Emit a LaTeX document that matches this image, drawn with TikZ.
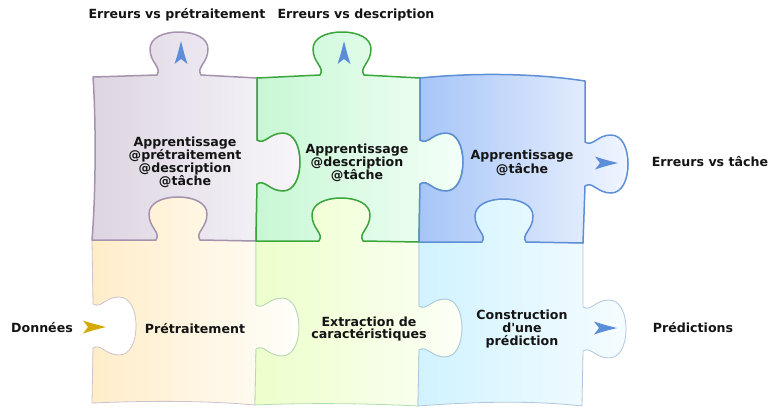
\documentclass[tikz,border=0pt]{standalone}
\usepackage{fontspec}
\setmainfont{DejaVu Sans}
\definecolor{pAline}{HTML}{A593AD}
\definecolor{pAl}{HTML}{DDD5E2}
\definecolor{pAr}{HTML}{F8F6FA}
\definecolor{pBline}{HTML}{3AA63A}
\definecolor{pBl}{HTML}{C8F7D5}
\definecolor{pBr}{HTML}{F3FFF7}
\definecolor{pCline}{HTML}{5E8ED6}
\definecolor{pCl}{HTML}{A6C5F7}
\definecolor{pCr}{HTML}{F0F5FF}
\definecolor{pDline}{HTML}{CCC2CC}
\definecolor{pDl}{HTML}{FFEDC9}
\definecolor{pDr}{HTML}{FFFEFA}
\definecolor{pEline}{HTML}{B2DDB2}
\definecolor{pEl}{HTML}{EDFFCB}
\definecolor{pEr}{HTML}{FCFFF6}
\definecolor{pFline}{HTML}{AEC6DE}
\definecolor{pFl}{HTML}{D0F3FF}
\definecolor{pFr}{HTML}{F6FCFF}
\definecolor{arrowblue}{HTML}{5B8DD9}
\definecolor{arrowgold}{HTML}{D4AA00}
% horizontal edge tab: #1 centre x, #2 base y, #3 direction (+1 l->r), #4 bump (+1 down)
\newcommand\hT[4]{-- ({#1-22*(#3)},{#2}) .. controls ({#1-17*(#3)},{#2+8*(#4)}) and ({#1-29*(#3)},{#2+12*(#4)}) .. ({#1-29*(#3)},{#2+26*(#4)}) .. controls ({#1-29*(#3)},{#2+37*(#4)}) and ({#1-16*(#3)},{#2+43*(#4)}) .. ({#1},{#2+43*(#4)}) .. controls ({#1+16*(#3)},{#2+43*(#4)}) and ({#1+29*(#3)},{#2+37*(#4)}) .. ({#1+29*(#3)},{#2+26*(#4)}) .. controls ({#1+29*(#3)},{#2+12*(#4)}) and ({#1+17*(#3)},{#2+8*(#4)}) .. ({#1+22*(#3)},{#2})}
% vertical edge tab: #1 centre y, #2 base x, #3 direction (+1 downwards), #4 bump (+1 right)
\newcommand\vT[4]{-- ({#2},{#1-22*(#3)}) .. controls ({#2+8*(#4)},{#1-17*(#3)}) and ({#2+12*(#4)},{#1-29*(#3)}) .. ({#2+26*(#4)},{#1-29*(#3)}) .. controls ({#2+37*(#4)},{#1-29*(#3)}) and ({#2+43*(#4)},{#1-16*(#3)}) .. ({#2+43*(#4)},{#1}) .. controls ({#2+43*(#4)},{#1+16*(#3)}) and ({#2+37*(#4)},{#1+29*(#3)}) .. ({#2+26*(#4)},{#1+29*(#3)}) .. controls ({#2+12*(#4)},{#1+29*(#3)}) and ({#2+8*(#4)},{#1+17*(#3)}) .. ({#2},{#1+22*(#3)})}
\newcommand\dartpath{(11,0) .. controls (3,-2) and (-5,-4) .. (-12,-6.5) .. controls (-9,-3) .. (-7,0) .. controls (-9,3) .. (-12,6.5) .. controls (-5,4) and (3,2) .. (11,0) -- cycle}
\begin{document}
\begin{tikzpicture}[x=1pt,y=-1pt,
  lbl/.style={font=\fontsize{12.6}{12.7}\selectfont\bfseries, text=black!92, inner sep=0pt, align=center},
  piece/.style={line join=round},
  top piece/.style={piece, line width=1.5pt},
  low piece/.style={piece, line width=0.8pt},
  pA/.style={top piece, draw=pAline, left color=pAl, right color=pAr},
  pB/.style={top piece, draw=pBline, left color=pBl, right color=pBr},
  pC/.style={top piece, draw=pCline, left color=pCl, right color=pCr},
  pD/.style={low piece, draw=pDline, left color=pDl, right color=pDr},
  pE/.style={low piece, draw=pEline, left color=pEl, right color=pEr},
  pF/.style={low piece, draw=pFline, left color=pFl, right color=pFr},
  dartb/.style={fill=arrowblue},
  dartg/.style={fill=arrowgold}]
\useasboundingbox (0,0) rectangle (771,408);
% bottom row
\path[pD] (92,240) \hT{178}{240}{1}{-1} -- (256,241) \vT{327}{256}{1}{1} -- (255,405) .. controls (200,400) and (140,401) .. (92,403) \vT{326}{93}{-1}{1} -- cycle;
\path[pE] (256,241) \hT{341}{241}{1}{-1} -- (419,242) \vT{328}{419}{1}{1} -- (418,406) .. controls (360,403) and (300,403) .. (255,405) \vT{327}{256}{-1}{1} -- cycle;
\path[pF] (419,242) \hT{504}{242}{1}{-1} -- (583,243) \vT{329}{583}{1}{1} -- (582,406) .. controls (530,400) and (470,402) .. (418,406) \vT{328}{419}{-1}{1} -- cycle;
% top row
\path[pA] (93,77) \hT{179}{75}{1}{-1} -- (257,78) \vT{162}{257}{1}{1} -- (256,241) \hT{178}{240}{-1}{-1} -- (92,240) .. controls (96,190) and (96,120) .. (93,77) -- cycle;
\path[pB] (257,78) \hT{342}{75}{1}{-1} -- (420,78) \vT{162}{420}{1}{1} -- (419,242) \hT{341}{241}{-1}{-1} -- (256,241) \vT{162}{257}{-1}{1} -- cycle;
\path[pC] (420,78) .. controls (480,72) and (540,74) .. (585,81) \vT{164}{585}{1}{1} -- (583,243) \hT{504}{242}{-1}{-1} -- (419,242) \vT{162}{420}{-1}{1} -- cycle;
% arrows
\fill[dartb, shift={(181,52)}, rotate=90] \dartpath;
\fill[dartb, shift={(344,52)}, rotate=90] \dartpath;
\fill[dartb, shift={(607,163)}] \dartpath;
\fill[dartb, shift={(606,328)}] \dartpath;
\fill[dartg, shift={(95,327)}] \dartpath;
% texts
\node[lbl] (tA) at (185,162) {Apprentissage\\@prétraitement\\@description\\@tâche};
\node[lbl] (tB) at (357,163) {Apprentissage\\@description\\@tâche};
\node[lbl] (tC) at (522,163) {Apprentissage\\@tâche};
\node[lbl] (tD) at (195,329) {Prétraitement};
\node[lbl] (tE) at (369,329) {Extraction de\\caractéristiques};
\node[lbl] (tF) at (522,329) {Construction\\d\textquotesingle une\\prédiction};
\node[lbl] (ep) at (177,15) {Erreurs vs prétraitement};
\node[lbl] (ed) at (356,15) {Erreurs vs description};
\node[lbl] (et) at (710,162) {Erreurs vs tâche};
\node[lbl] (don) at (42,328) {Données};
\node[lbl] (pred) at (693,328) {Prédictions};
\end{tikzpicture}
\end{document}
